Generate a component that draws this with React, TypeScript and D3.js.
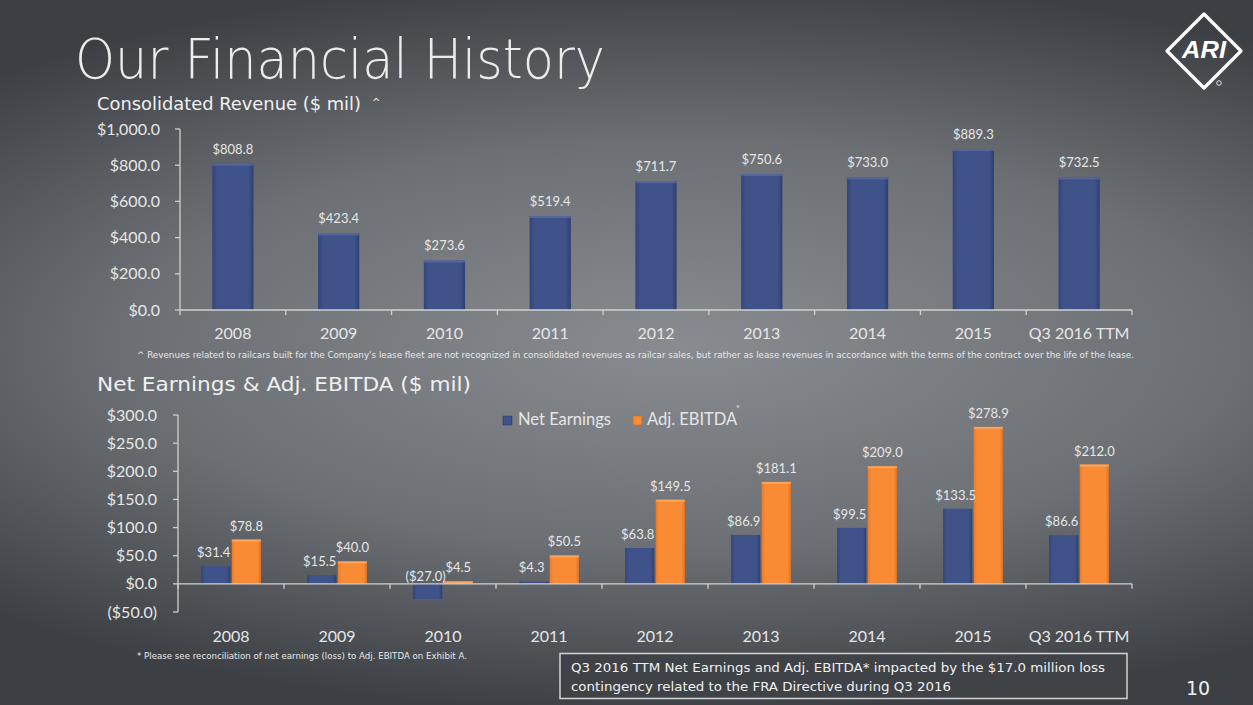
import React from "react";
import * as d3 from "d3";

const categories = ["2008", "2009", "2010", "2011", "2012", "2013", "2014", "2015", "Q3 2016 TTM"];
const revenue = [808.8, 423.4, 273.6, 519.4, 711.7, 750.6, 733.0, 889.3, 732.5];
const netEarnings = [31.4, 15.5, -27.0, 4.3, 63.8, 86.9, 99.5, 133.5, 86.6];
const adjEbitda = [78.8, 40.0, 4.5, 50.5, 149.5, 181.1, 209.0, 278.9, 212.0];
const revTicks = [0, 200, 400, 600, 800, 1000];
const earnTicks = [-50, 0, 50, 100, 150, 200, 250, 300];

const W = 1253;
const H = 705;
const NUM_FONT = "Lato, 'Open Sans', sans-serif";
const GOTHIC = "'DejaVu Sans', Lato, sans-serif";
const TXT = "#e6e6e6";
const AXIS = "#d0d0d0";

const fmt = (v: number) => {
  const s = "$" + d3.format(",.1f")(Math.abs(v));
  return v < 0 ? "(" + s + ")" : s;
};

export default function App() {
  // Top chart scales
  const x1 = d3.scaleBand<string>().domain(categories).range([180, 1132]).padding(0);
  const y1 = d3.scaleLinear().domain([0, 1000]).range([310, 129]);
  const bw1 = x1.bandwidth() * 0.39;

  // Bottom chart scales
  const x2 = d3.scaleBand<string>().domain(categories).range([178, 1132]).padding(0);
  const y2 = d3.scaleLinear().domain([-50, 300]).range([612, 415]);
  const bw2 = x2.bandwidth() * 0.275;
  const gap = 1.5;

  return (
    <svg width={W} height={H} style={{ display: "block", position: "absolute", left: 0, top: 0 }}>
      <defs>
        <radialGradient id="bg" gradientUnits="userSpaceOnUse" cx={680} cy={345} r={1}
          gradientTransform="translate(680 345) scale(1000 370) translate(-680 -345)">
          <stop offset="0" stopColor="#888c90" />
          <stop offset="0.55" stopColor="#6c7074" />
          <stop offset="1" stopColor="#3c3f43" />
        </radialGradient>
        <linearGradient id="blueG" x1="0" y1="0" x2="1" y2="0">
          <stop offset="0" stopColor="#33457a" />
          <stop offset="0.12" stopColor="#3f5289" />
          <stop offset="0.88" stopColor="#3f5289" />
          <stop offset="1" stopColor="#2e3f70" />
        </linearGradient>
        <linearGradient id="orangeG" x1="0" y1="0" x2="1" y2="0">
          <stop offset="0" stopColor="#e87b2a" />
          <stop offset="0.12" stopColor="#f98b35" />
          <stop offset="0.88" stopColor="#f98b35" />
          <stop offset="1" stopColor="#e07526" />
        </linearGradient>
      </defs>
      <rect x={0} y={0} width={W} height={H} fill="url(#bg)" />

      {/* Title */}
      <text x={75} y={78} fill="#ececec" fontFamily={GOTHIC} fontWeight={200} fontSize={56}
        textLength={530} lengthAdjust="spacingAndGlyphs">Our Financial History</text>
      <text x={97} y={110} fill="#f0f0f0" fontFamily={GOTHIC} fontSize={17.5}
        textLength={264} lengthAdjust="spacingAndGlyphs">Consolidated Revenue ($ mil)</text>
      <text x={372} y={106} fill="#f0f0f0" fontFamily={GOTHIC} fontSize={10}>^</text>

      {/* Logo */}
      <g transform="translate(1204,51)">
        <path d="M0,-37 L37,0 L0,37 L-37,0 Z" fill="none" stroke="#ffffff" strokeWidth={3.2} strokeLinejoin="round" />
        <text x={0} y={7} textAnchor="middle" fill="#ffffff" fontFamily="'Liberation Sans', Arial, sans-serif"
          fontWeight={700} fontStyle="italic" fontSize={24} textLength={44} lengthAdjust="spacingAndGlyphs">ARI</text>
        <circle cx={15} cy={32} r={2.3} fill="none" stroke="#ffffff" strokeWidth={0.8} />
      </g>

      {/* Top chart */}
      <g>
        {revTicks.map((t) => (
          <g key={"rt" + t}>
            <line x1={175} x2={180} y1={y1(t)} y2={y1(t)} stroke={AXIS} strokeWidth={1.3} />
            <text x={160} y={y1(t)} dy="0.35em" textAnchor="end" fill={TXT} fontFamily={NUM_FONT} fontSize={16}>{fmt(t)}</text>
          </g>
        ))}
        <line x1={180} x2={180} y1={y1(1000)} y2={y1(0)} stroke={AXIS} strokeWidth={1.3} />
        {categories.map((c, i) => {
          const cx = (x1(c) as number) + x1.bandwidth() / 2;
          const v = revenue[i];
          return (
            <g key={"rb" + c}>
              <rect x={cx - bw1 / 2} y={y1(v)} width={bw1} height={y1(0) - y1(v)} fill="url(#blueG)" />
              <rect x={cx - bw1 / 2} y={y1(v)} width={bw1} height={2} fill="#5a6ca3" opacity={0.8} />
              <text x={cx} y={y1(v) - 10} textAnchor="middle" fill={TXT} fontFamily={NUM_FONT} fontSize={13}>{fmt(v)}</text>
              <text x={cx} y={333} dy="0.35em" textAnchor="middle" fill={TXT} fontFamily={NUM_FONT} fontSize={16}>{c}</text>
            </g>
          );
        })}
        <line x1={180} x2={1132} y1={y1(0)} y2={y1(0)} stroke={AXIS} strokeWidth={1.3} />
        {categories.concat(["end"]).map((c, i) => {
          const xx = 180 + i * x1.bandwidth();
          return <line key={"rtk" + i} x1={xx} x2={xx} y1={y1(0)} y2={y1(0) + 5} stroke={AXIS} strokeWidth={1.3} />;
        })}
      </g>

      <text x={137} y={358} fill="#e8e8e8" fontFamily={GOTHIC} fontSize={8}
        textLength={997} lengthAdjust="spacingAndGlyphs">^ Revenues related to railcars built for the Company's lease fleet are not recognized in consolidated revenues as railcar sales, but rather as lease revenues in accordance with the terms of the contract over the life of the lease.</text>

      <text x={97} y={391} fill="#f0f0f0" fontFamily={GOTHIC} fontSize={20}
        textLength={374} lengthAdjust="spacingAndGlyphs">Net Earnings &amp; Adj. EBITDA ($ mil)</text>

      {/* Bottom chart */}
      <g>
        {earnTicks.map((t) => (
          <g key={"et" + t}>
            <line x1={173} x2={178} y1={y2(t)} y2={y2(t)} stroke={AXIS} strokeWidth={1.3} />
            <text x={157} y={y2(t)} dy="0.35em" textAnchor="end" fill={TXT} fontFamily={NUM_FONT} fontSize={16}>{fmt(t)}</text>
          </g>
        ))}
        <line x1={178} x2={178} y1={y2(300)} y2={y2(-50)} stroke={AXIS} strokeWidth={1.3} />
        {categories.map((c, i) => {
          const cx = (x2(c) as number) + x2.bandwidth() / 2;
          const ne = netEarnings[i];
          const ae = adjEbitda[i];
          const nx = cx - gap / 2 - bw2;
          const ax = cx + gap / 2;
          const neTop = Math.min(y2(ne), y2(0));
          const neH = Math.abs(y2(ne) - y2(0));
          const aeTop = Math.min(y2(ae), y2(0));
          const aeH = Math.abs(y2(ae) - y2(0));
          const neLabelY = ne < 0 ? y2(0) - 3 : y2(ne) - 9;
          return (
            <g key={"eb" + c}>
              <rect x={nx} y={neTop} width={bw2} height={neH} fill="url(#blueG)" />
              <rect x={ax} y={aeTop} width={bw2} height={aeH} fill="url(#orangeG)" />
              <rect x={ax} y={aeTop} width={bw2} height={Math.min(2, aeH)} fill="#fdb06f" opacity={0.7} />
              <text x={nx + bw2 / 2 - 2} y={neLabelY} textAnchor="middle" fill={TXT} fontFamily={NUM_FONT} fontSize={13}>{fmt(ne)}</text>
              <text x={ax + bw2 / 2} y={y2(ae) - 9} textAnchor="middle" fill={TXT} fontFamily={NUM_FONT} fontSize={13}>{fmt(ae)}</text>
              <text x={cx} y={636} dy="0.35em" textAnchor="middle" fill={TXT} fontFamily={NUM_FONT} fontSize={16}>{c}</text>
            </g>
          );
        })}
        <line x1={178} x2={1132} y1={y2(0)} y2={y2(0)} stroke={AXIS} strokeWidth={1.3} />
        {categories.concat(["end"]).map((c, i) => {
          const xx = 178 + i * x2.bandwidth();
          return <line key={"etk" + i} x1={xx} x2={xx} y1={y2(0)} y2={y2(0) + 5} stroke={AXIS} strokeWidth={1.3} />;
        })}

        {/* Legend */}
        <rect x={503} y={416} width={9} height={9} fill="url(#blueG)" stroke="#2a3a66" strokeWidth={0.5} />
        <text x={518} y={419} dy="0.35em" fill={TXT} fontFamily={NUM_FONT} fontSize={16.5}>Net Earnings</text>
        <rect x={633} y={416} width={9} height={9} fill="url(#orangeG)" stroke="#c86a20" strokeWidth={0.5} />
        <text x={647} y={419} dy="0.35em" fill={TXT} fontFamily={NUM_FONT} fontSize={16.5}>Adj. EBITDA</text>
        <text x={736} y={412} fill={TXT} fontFamily={NUM_FONT} fontSize={9}>*</text>
      </g>

      <text x={137} y={659} fill="#e8e8e8" fontFamily={GOTHIC} fontSize={8}
        textLength={330} lengthAdjust="spacingAndGlyphs">* Please see reconciliation of net earnings (loss) to Adj. EBITDA on Exhibit A.</text>

      {/* Note box */}
      <rect x={560} y={653.5} width={567} height={45} fill="#3f4246" stroke="#d4d4d4" strokeWidth={1.5} />
      <text x={571} y={672} fill="#f0f0f0" fontFamily={GOTHIC} fontSize={13}
        textLength={534} lengthAdjust="spacingAndGlyphs">Q3 2016 TTM Net Earnings and Adj. EBITDA* impacted by the $17.0 million loss</text>
      <text x={571} y={691} fill="#f0f0f0" fontFamily={GOTHIC} fontSize={13}
        textLength={380} lengthAdjust="spacingAndGlyphs">contingency related to the FRA Directive during Q3 2016</text>

      <text x={1198} y={695} textAnchor="middle" fill="#f0f0f0" fontFamily={GOTHIC} fontSize={19}>10</text>
    </svg>
  );
}
